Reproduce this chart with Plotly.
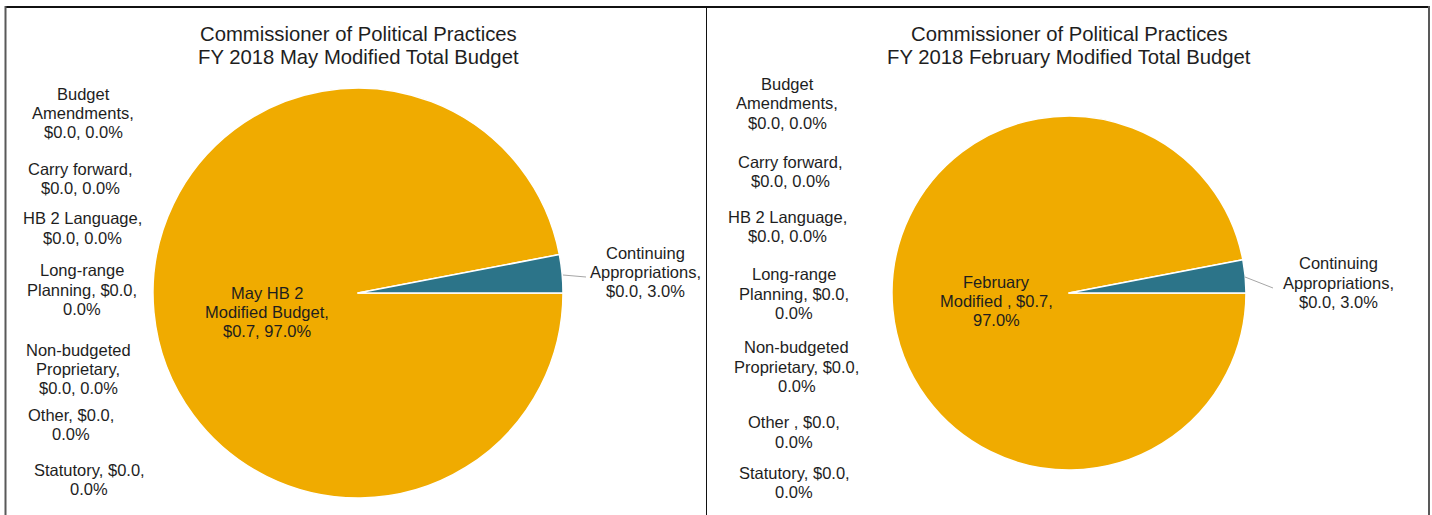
import plotly.graph_objects as go

# ---------------- data ----------------
categories = ["Budget Amendments", "Carry forward", "Continuing Appropriations",
              "HB 2 Language", "Long-range Planning", "HB 2 Modified",
              "Non-budgeted Proprietary", "Other", "Statutory"]
may_values = [0.0, 0.0, 0.021, 0.0, 0.0, 0.679, 0.0, 0.0, 0.0]   # $ millions
feb_values = [0.0, 0.0, 0.021, 0.0, 0.0, 0.679, 0.0, 0.0, 0.0]   # $ millions

# label templates (wrapped as in the original), {v} = value, {p} = percent
may_label_templates = [
    "Budget\nAmendments,\n{v}, {p}",
    "Carry forward,\n{v}, {p}",
    "Continuing\nAppropriations,\n{v}, {p}",
    "HB 2 Language,\n{v}, {p}",
    "Long-range\nPlanning, {v},\n{p}",
    "May HB 2\nModified Budget,\n{v}, {p}",
    "Non-budgeted\nProprietary,\n{v}, {p}",
    "Other, {v},\n{p}",
    "Statutory, {v},\n{p}",
]
feb_label_templates = [
    "Budget\nAmendments,\n{v}, {p}",
    "Carry forward,\n{v}, {p}",
    "Continuing\nAppropriations,\n{v}, {p}",
    "HB 2 Language,\n{v}, {p}",
    "Long-range\nPlanning, {v},\n{p}",
    "February\nModified , {v},\n{p}",
    "Non-budgeted\nProprietary, {v},\n{p}",
    "Other , {v},\n{p}",
    "Statutory, {v},\n{p}",
]
may_title = ["Commissioner of Political Practices", "FY 2018 May Modified Total Budget"]
feb_title = ["Commissioner of Political Practices", "FY 2018 February Modified Total Budget"]

slice_colors = {"Continuing Appropriations": "#2C7489", "HB 2 Modified": "#F0AB00"}

# ---------------- layout helpers (pixels) ----------------
W, H = 1432, 515
def fx(x):
    return x / W
def fy(y):
    return 1 - y / H

# label centers (x, list of line y's), in category order
may_label_pos = [
    (83, [94, 113, 132]),      # Budget Amendments
    (80, [169, 188]),          # Carry forward
    (645, [253, 272, 291]),    # Continuing Appropriations
    (82, [218, 238]),          # HB 2 Language
    (82, [270, 290, 309]),     # Long-range Planning
    (267, [293, 312, 331]),    # HB 2 Modified
    (78, [350, 369, 388]),     # Non-budgeted Proprietary
    (71, [415, 434]),          # Other
    (89, [470, 489]),          # Statutory
]
feb_label_pos = [
    (787, [84, 103, 123]),
    (790, [162, 181]),
    (1338, [263, 283, 302]),
    (787, [217, 236]),
    (794, [274, 294, 313]),
    (996, [282, 301, 320]),
    (797, [347, 367, 386]),
    (794, [422, 442]),
    (794, [473, 492]),
]

TEXT = "#1E1E1E"
LABEL_SIZE = 16.5
TITLE_SIZE = 20.3
FONT = "Liberation Sans, Arial"

fig = go.Figure()
annotations = []

def add_pie(values, templates, label_pos, title, cx, cy, r, title_ys, leader):
    total = sum(values)
    labs, vals, cols = [], [], []
    for c, v in zip(categories, values):
        if v > 0:
            labs.append(c)
            vals.append(v)
            cols.append(slice_colors[c])
    # draw the large slice first clockwise from 3 o'clock so the small one ends there
    labs, vals, cols = labs[::-1], vals[::-1], cols[::-1]
    fig.add_trace(go.Pie(
        labels=labs, values=vals, sort=False, direction="clockwise",
        rotation=90, textinfo="none", hoverinfo="label+value+percent",
        marker=dict(colors=cols, line=dict(color="white", width=1.5)),
        domain=dict(x=[fx(cx - r), fx(cx + r)], y=[fy(cy + r), fy(cy - r)]),
        showlegend=False,
    ))
    for tmpl, v, (x, ys) in zip(templates, values, label_pos):
        txt = tmpl.format(v="${:.1f}".format(v), p="{:.1f}%".format(100 * v / total))
        for line, y in zip(txt.split("\n"), ys):
            annotations.append(dict(
                text=line, x=fx(x), y=fy(y), xref="paper", yref="paper",
                xanchor="center", yanchor="middle", showarrow=False,
                font=dict(family=FONT, size=LABEL_SIZE, color=TEXT)))
    for line, y in zip(title, title_ys):
        annotations.append(dict(
            text=line, x=fx(cx), y=fy(y), xref="paper", yref="paper",
            xanchor="center", yanchor="middle", showarrow=False,
            font=dict(family=FONT, size=TITLE_SIZE, color=TEXT)))
    fig.add_shape(type="line", xref="paper", yref="paper",
                  x0=fx(leader[0]), y0=fy(leader[1]), x1=fx(leader[2]), y1=fy(leader[3]),
                  line=dict(color="#A6A6A6", width=1))

add_pie(may_values, may_label_templates, may_label_pos, may_title,
        358, 293, 205, [34, 57], (563, 275, 586, 277))
add_pie(feb_values, feb_label_templates, feb_label_pos, feb_title,
        1069, 293, 177, [34, 57], (1245, 277, 1273, 288))

# panel borders
border_shapes = [
    dict(x0=5, y0=7, x1=1430, y1=7, color="#111111", width=2),
    dict(x0=5.5, y0=6, x1=5.5, y1=520, color="#595959", width=2),
    dict(x0=706.5, y0=7, x1=706.5, y1=520, color="#111111", width=1),
    dict(x0=1429, y0=6, x1=1429, y1=520, color="#595959", width=2),
]
for s in border_shapes:
    fig.add_shape(type="line", xref="paper", yref="paper",
                  x0=fx(s["x0"]), y0=fy(s["y0"]), x1=fx(s["x1"]), y1=fy(s["y1"]),
                  line=dict(color=s["color"], width=s["width"]))

fig.update_layout(
    width=W, height=H, margin=dict(l=0, r=0, t=0, b=0),
    paper_bgcolor="white", plot_bgcolor="white",
    annotations=annotations,
    font=dict(family=FONT, color=TEXT),
)
fig.write_html("out.html", config={"displayModeBar": False},
               post_script="document.body.style.margin='0';document.body.style.overflow='hidden';")
